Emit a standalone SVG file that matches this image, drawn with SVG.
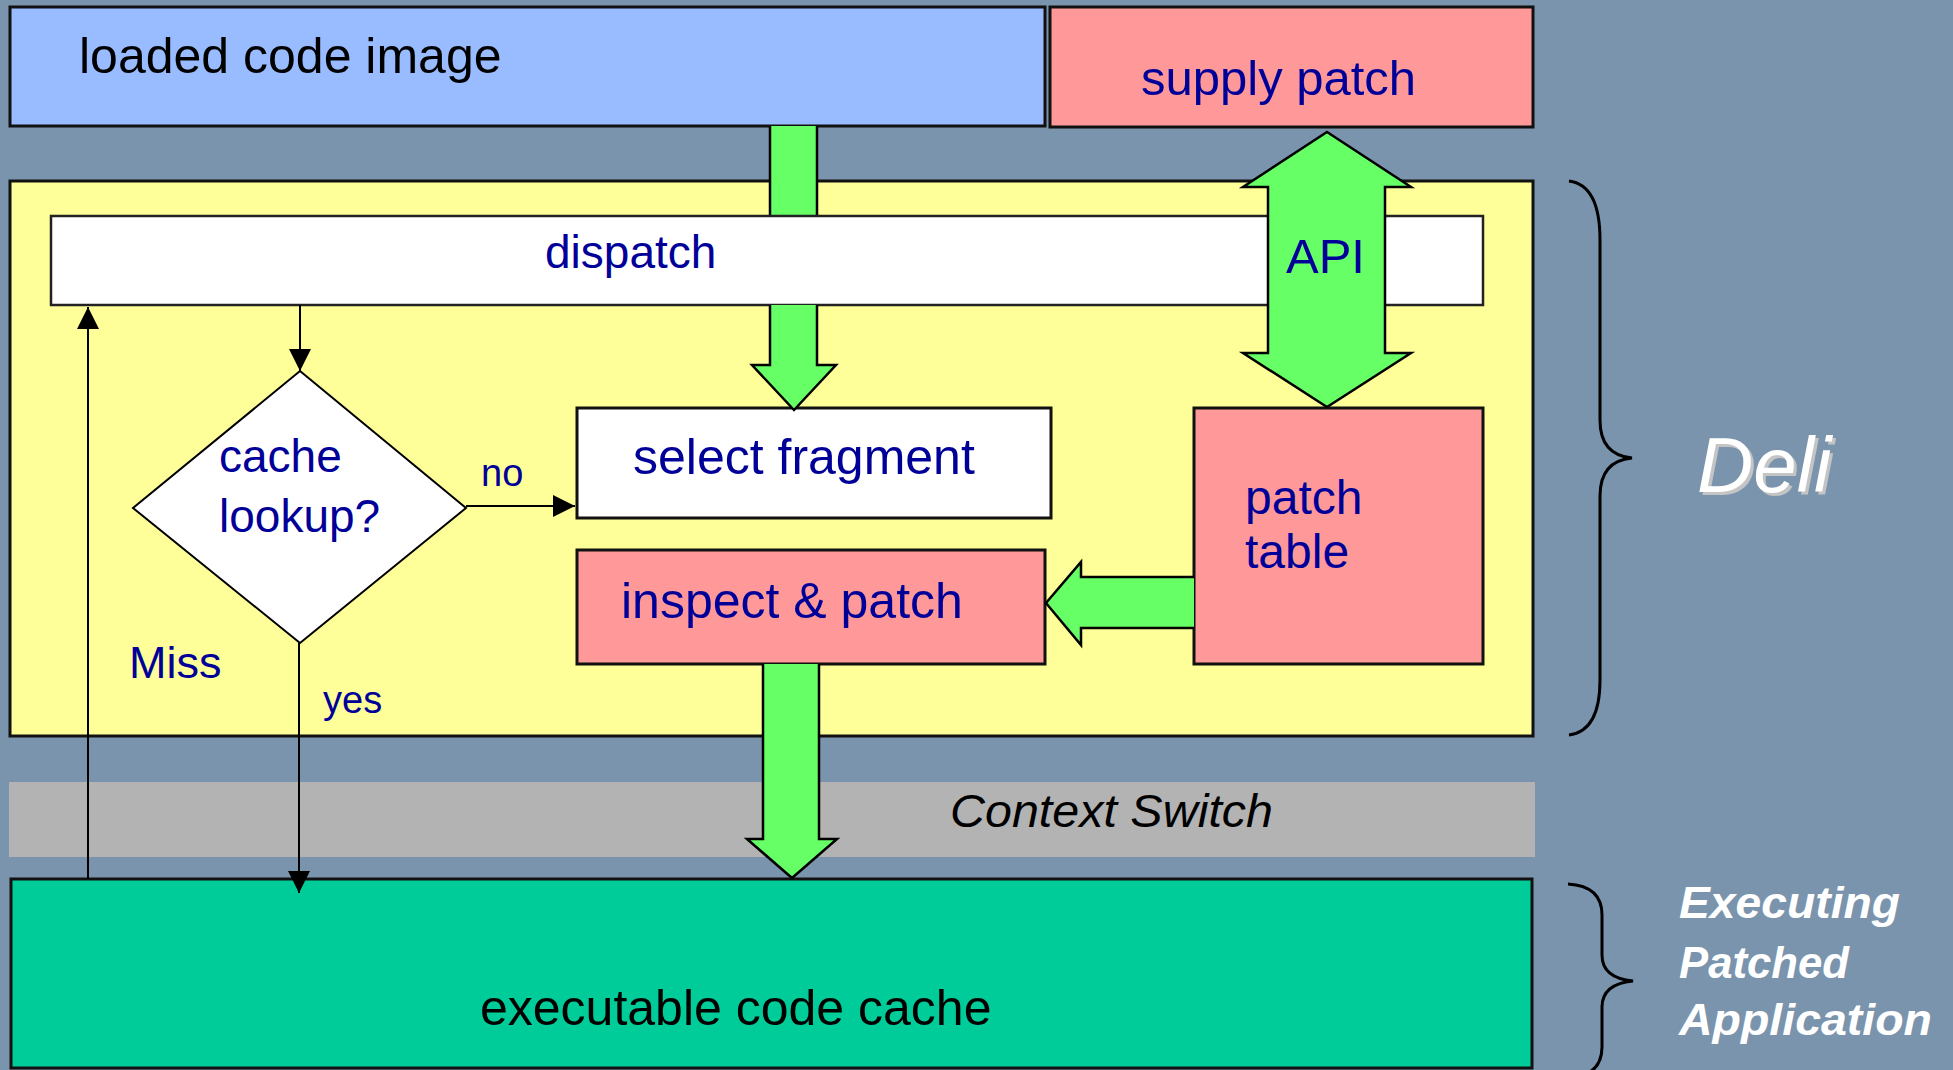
<svg xmlns="http://www.w3.org/2000/svg" width="1953" height="1070" viewBox="0 0 1953 1070">
<style>
.t{font-family:"Liberation Sans",Arial,sans-serif}
.blue{fill:#000099}
.box{stroke:#111;stroke-width:3}
.green{fill:#66ff66;stroke:#000;stroke-width:2.5;stroke-linejoin:miter}
.thin{stroke:#000;stroke-width:2;fill:none}
.brace{stroke:#000;stroke-width:3;fill:none}
.lbl{font-style:italic;font-weight:bold;fill:#fff}
</style>
<defs>
<marker id="ah" viewBox="0 0 22 22" refX="22" refY="11" markerWidth="22" markerHeight="22" markerUnits="userSpaceOnUse" orient="auto">
<path d="M0,0 L22,11 L0,22 Z" fill="#000"/>
</marker>
</defs>
<rect x="0" y="0" width="1953" height="1070" fill="#7a94ad"/>

<g id="deli-container">
<rect x="10" y="181" width="1523" height="555" fill="#ffff99" class="box"/>
</g>
<g id="loaded-code-image">
<rect x="10" y="7" width="1035" height="119" fill="#99bbff" class="box"/>
<text class="t" x="79" y="73" font-size="50" fill="#000">loaded code image</text>
</g>
<g id="supply-patch">
<rect x="1050" y="7" width="483" height="120" fill="#ff9999" class="box"/>
<text class="t blue" x="1141" y="95" font-size="49">supply patch</text>
</g>
<g id="context-switch">
<rect x="9" y="782" width="1526" height="75" fill="#b3b3b3"/>
<text class="t" x="950" y="827" font-size="47" font-style="italic" fill="#000" textLength="323" lengthAdjust="spacingAndGlyphs">Context Switch</text>
</g>

<g id="connectors-under">
<rect x="770" y="126" width="47" height="90" fill="#66ff66"/>
<path d="M770,126 L770,216 M817,126 L817,216" stroke="#000" stroke-width="2.5"/>
</g>

<g id="dispatch">
<rect x="51" y="216" width="1432" height="89" fill="#fff" stroke="#222" stroke-width="2.5"/>
<text class="t blue" x="545" y="268" font-size="46">dispatch</text>
</g>
<g id="select-fragment">
<rect x="577" y="408" width="474" height="110" fill="#fff" class="box"/>
<text class="t blue" x="633" y="474" font-size="50">select fragment</text>
</g>
<g id="inspect-patch">
<rect x="577" y="550" width="468" height="114" fill="#ff9999" class="box"/>
<text class="t blue" x="621" y="618" font-size="50">inspect &amp; patch</text>
</g>
<g id="patch-table">
<rect x="1194" y="408" width="289" height="256" fill="#ff9999" class="box"/>
<text class="t blue" x="1245" y="514" font-size="48">patch</text>
<text class="t blue" x="1245" y="568" font-size="48">table</text>
</g>
<g id="cache-lookup">
<polygon points="300,371 466,508 300,643 133,508" fill="#fff" stroke="#000" stroke-width="2"/>
<text class="t blue" x="219" y="472" font-size="46">cache</text>
<text class="t blue" x="219" y="532" font-size="46">lookup?</text>
</g>
<g id="executable-code-cache">
<rect x="11" y="879" width="1521" height="189" fill="#00cc99" class="box"/>
<text class="t" x="480" y="1025" font-size="50" fill="#000">executable code cache</text>
</g>

<g id="connectors">
<path class="green" d="M770,305 L770,365 L752,365 L794,410 L836,365 L817,365 L817,305"/>
<path class="green" d="M1194,577 L1081,577 L1081,562 L1046,603 L1081,645 L1081,628 L1194,628"/>
<path class="green" d="M763,664 L763,839 L747,839 L792,878 L837,839 L819,839 L819,664"/>
<polygon class="green" points="1327,132 1411,187 1385,187 1385,353 1411,353 1327,407 1243,353 1268,353 1268,187 1243,187"/>
<path class="thin" d="M300,305 L300,371" marker-end="url(#ah)"/>
<path class="thin" d="M466,506 L575,506" marker-end="url(#ah)"/>
<path class="thin" d="M299,643 L299,893" marker-end="url(#ah)"/>
<path class="thin" d="M88,879 L88,307" marker-end="url(#ah)"/>
<text class="t blue" x="1286" y="273" font-size="49">API</text>
<text class="t blue" x="481" y="486" font-size="38">no</text>
<text class="t blue" x="323" y="713" font-size="38">yes</text>
<text class="t blue" x="129" y="678" font-size="45">Miss</text>
</g>

<g id="deli-label">
<path class="brace" d="M1569,181 Q1600,185 1600,240 L1600,420 Q1600,455 1632,458 Q1600,461 1600,496 L1600,680 Q1600,731 1569,735"/>
<text class="t" x="1700" y="495" font-size="78" font-style="italic" fill="#c4c4c4">Deli</text>
<text class="t" x="1697" y="492" font-size="78" font-style="italic" fill="#fff">Deli</text>
</g>
<g id="executing-label">
<path class="brace" d="M1568,884 Q1602,886 1602,915 L1602,955 Q1602,978 1633,981 Q1602,984 1602,1007 L1602,1047 Q1602,1076 1568,1078"/>
<text class="t lbl" x="1679" y="918" font-size="44" textLength="221" lengthAdjust="spacingAndGlyphs">Executing</text>
<text class="t lbl" x="1679" y="978" font-size="44" textLength="170" lengthAdjust="spacingAndGlyphs">Patched</text>
<text class="t lbl" x="1679" y="1035" font-size="44" textLength="253" lengthAdjust="spacingAndGlyphs">Application</text>
</g>
</svg>
